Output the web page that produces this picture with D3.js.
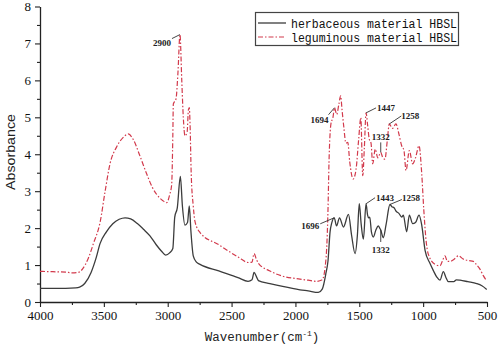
<!DOCTYPE html>
<html><head><meta charset="utf-8">
<script src="https://cdn.jsdelivr.net/npm/d3@7"></script>
<style>body{margin:0;background:#fff}svg{display:block}</style>
</head><body>
<svg id="c" width="500" height="348"></svg>
<script>
// Data (wavenumber, absorbance)
const herbWave = [4000,3900,3800,3720,3690,3650,3600,3560,3530,3480,3430,3380,3334,3290,3240,3190,3139,3090,3050,3016,2985,2960,2945,2925,2901,2885,2865,2845,2831,2818,2800,2775,2747,2600,2450,2371,2340,2324,2305,2290,2200,2100,1964,1900,1821,1790,1760,1745,1729,1715,1696,1678,1655,1624,1585,1560,1533,1515,1500,1485,1468,1447,1435,1427,1418,1405,1390,1370,1351,1340,1332,1312,1290,1260,1245,1228,1210,1190,1168,1155,1129,1108,1082,1060,1032,1011,985,946,920,894,868,842,820,803,760,740,711,650,581,540,502];
const herbAbs  = [0.37,0.37,0.37,0.38,0.40,0.50,0.80,1.20,1.58,1.90,2.12,2.24,2.28,2.25,2.13,1.97,1.79,1.55,1.38,1.27,1.33,1.45,2.30,2.55,3.40,2.60,2.08,2.15,2.60,1.90,1.25,1.08,1.02,0.84,0.66,0.56,0.60,0.80,0.68,0.58,0.50,0.42,0.33,0.30,0.26,0.35,0.80,1.11,1.89,2.15,2.28,2.06,2.28,2.03,2.37,1.80,1.31,1.80,2.66,2.10,1.70,2.66,2.35,2.28,2.30,1.90,1.76,1.95,2.06,2.00,1.95,1.74,2.10,2.64,2.58,2.55,2.45,2.40,2.30,2.35,1.90,2.35,2.12,2.15,2.35,2.08,1.40,1.04,0.85,0.68,0.59,0.82,0.65,0.55,0.55,0.60,0.59,0.55,0.50,0.44,0.34];

const legWave = [4000,3900,3800,3750,3700,3670,3620,3580,3530,3490,3452,3400,3350,3309,3270,3217,3165,3120,3086,3040,3008,2985,2969,2960,2956,2935,2920,2904,2890,2878,2865,2848,2838,2831,2825,2816,2800,2787,2747,2600,2450,2369,2340,2324,2305,2290,2200,2100,1964,1900,1834,1790,1760,1745,1737,1722,1706,1694,1677,1660,1646,1635,1621,1605,1590,1575,1548,1525,1505,1488,1473,1460,1447,1435,1422,1408,1395,1375,1355,1332,1315,1299,1280,1265,1240,1213,1190,1168,1150,1134,1108,1082,1060,1032,1011,995,975,959,907,868,845,829,810,789,760,724,685,640,607,580,555,530,502];
const legAbs  = [0.83,0.82,0.81,0.79,0.80,0.88,1.20,1.60,2.15,3.00,3.74,4.20,4.45,4.55,4.40,3.95,3.47,3.10,2.91,2.75,2.69,2.90,3.18,4.50,5.36,5.50,6.20,7.24,6.00,5.00,4.50,4.60,5.20,5.26,4.80,3.47,2.60,2.19,1.88,1.55,1.22,1.07,1.08,1.31,1.15,1.05,0.84,0.70,0.62,0.59,0.56,0.60,1.20,2.50,3.80,4.82,5.00,5.26,5.08,5.35,5.58,5.20,4.73,4.30,4.32,3.80,3.33,3.60,4.40,4.99,3.42,4.20,5.12,4.80,4.41,4.30,3.74,4.14,3.90,4.05,3.90,3.87,4.40,4.82,4.70,4.82,4.55,4.23,4.10,3.56,4.10,3.74,3.90,4.23,3.47,2.50,1.60,1.29,1.02,0.98,1.15,1.25,1.10,1.10,1.15,1.25,1.16,1.12,1.10,1.00,0.89,0.72,0.57];

const seriesNames = ["herbaceous material HBSL","leguminous material HBSL"];
const xTicks = [4000,3500,3000,2500,2000,1500,1000,500];
const yTicks = [0,1,2,3,4,5,6,7,8];

// annotations: [label, wavenumber, absorbance]
const legLabels = [["2900",2904,7.24],["1694",1694,5.26],["1447",1447,5.12],["1258",1265,4.82],["1332",1332,4.05]];
const herbLabels = [["1696",1696,2.28],["1443",1447,2.66],["1258",1260,2.64],["1332",1332,1.95]];

const svg = d3.select("#c");
const x = d3.scaleLinear().domain([4000,500]).range([40,487]);
const y = d3.scaleLinear().domain([0,8]).range([302,6.5]);

const serif = "'Liberation Serif','Times New Roman',serif";

// axes
const gx = svg.append("g").attr("transform","translate(0,302)")
  .call(d3.axisBottom(x).tickValues(xTicks).tickFormat(d3.format("d")).tickSize(5).tickSizeOuter(0).tickPadding(4));
svg.append("g").attr("transform","translate(0,302)")
  .call(d3.axisBottom(x).tickValues(d3.range(3750,500,-500)).tickSize(3).tickFormat("")).select(".domain").remove();
const gy = svg.append("g").attr("transform","translate(40,0)")
  .call(d3.axisLeft(y).tickValues(yTicks).tickFormat(d3.format("d")).tickSize(5).tickSizeOuter(0).tickPadding(4));
svg.append("g").attr("transform","translate(40,0)")
  .call(d3.axisLeft(y).tickValues(d3.range(0.5,8,1)).tickSize(3).tickFormat("")).select(".domain").remove();
[gx,gy].forEach(g=>g.attr("font-family",serif).attr("font-size",13));
svg.selectAll(".domain").attr("stroke","#222").attr("stroke-width",1.3);
svg.selectAll(".tick line").attr("stroke","#222").attr("stroke-width",1.1);
svg.selectAll(".tick text").attr("font-family",serif).style("font-family",serif).attr("fill","#111");

// axis titles
svg.append("text").attr("transform","translate(15,152) rotate(-90)").attr("text-anchor","middle")
  .style("font-family","'Liberation Sans',Arial,sans-serif").style("font-size","12.5px").attr("fill","#222")
  .attr("textLength",76).attr("lengthAdjust","spacingAndGlyphs").text("Absorbance");
const xt = svg.append("text").attr("x",262).attr("y",341).attr("text-anchor","middle")
  .style("font-family","'Liberation Mono','DejaVu Sans Mono',monospace").style("font-size","12.5px").attr("fill","#222");
xt.append("tspan").text("Wavenumber(cm");
xt.append("tspan").attr("dy",-5).style("font-size","8px").text("-1");
xt.append("tspan").attr("dy",5).text(")");

// lines
const line = d3.line().x(d=>x(d[0])).y(d=>y(d[1])).curve(d3.curveMonotoneX);
const herb = herbWave.map((w,i)=>[w,herbAbs[i]]);
const leg = legWave.map((w,i)=>[w,legAbs[i]]);
svg.append("path").datum(herb).attr("d",line).attr("fill","none").attr("stroke","#3c3c3c").attr("stroke-width",1.3);
svg.append("path").datum(leg).attr("d",line).attr("fill","none").attr("stroke","#d23a4c").attr("stroke-width",1.2).attr("stroke-dasharray","5,2,1.5,2");

// annotations
const annG = svg.append("g").style("font-family",serif).style("font-size","9px").attr("font-weight","bold").attr("fill","#222");
function ann(label,w,v,dx,dy,anchor,tx,ty){
  const px=x(w), py=y(v);
  annG.append("line").attr("x1",px).attr("y1",py).attr("x2",px+dx).attr("y2",py+dy).attr("stroke","#333").attr("stroke-width",0.9);
  annG.append("text").attr("x",px+tx).attr("y",py+ty).attr("text-anchor",anchor).text(label);
}
// red
ann(legLabels[0][0],legLabels[0][1],legLabels[0][2],-8,4,"end",-9,11);
ann(legLabels[1][0],legLabels[1][1],legLabels[1][2],-6,7,"end",-6,15);
ann(legLabels[2][0],legLabels[2][1],legLabels[2][2],10,-5,"start",11,-2);
ann(legLabels[3][0],legLabels[3][1],legLabels[3][2],12,-8,"start",12,-5);
ann(legLabels[4][0],legLabels[4][1],legLabels[4][2],0,-10,"middle",0,-12);
// black
ann(herbLabels[0][0],herbLabels[0][1],herbLabels[0][2],-14,6,"end",-15,11);
ann(herbLabels[1][0],herbLabels[1][1],herbLabels[1][2],9,-6,"start",10,-3);
ann(herbLabels[2][0],herbLabels[2][1],herbLabels[2][2],12,-5,"start",12,-3);
ann(herbLabels[3][0],herbLabels[3][1],herbLabels[3][2],0,12,"middle",0,23);

// legend
const lg = svg.append("g");
lg.append("rect").attr("x",255.5).attr("y",12.5).attr("width",203).attr("height",33).attr("fill","#fff").attr("stroke","#444").attr("stroke-width",1.2);
const lstyles = [{c:"#3c3c3c",d:null,w:1.3},{c:"#d23a4c",d:"5,2,1.5,2",w:1.2}];
seriesNames.forEach((n,i)=>{
  const yy = 23 + i*14;
  lg.append("line").attr("x1",258).attr("x2",286).attr("y1",yy).attr("y2",yy)
    .attr("stroke",lstyles[i].c).attr("stroke-width",lstyles[i].w).attr("stroke-dasharray",lstyles[i].d);
  lg.append("text").attr("x",291).attr("y",yy+4.5).style("font-family","'Liberation Mono','DejaVu Sans Mono',monospace")
    .style("font-size","12.5px").attr("fill","#111").attr("textLength",166).attr("lengthAdjust","spacingAndGlyphs").text(n);
});
</script>
</body></html>
